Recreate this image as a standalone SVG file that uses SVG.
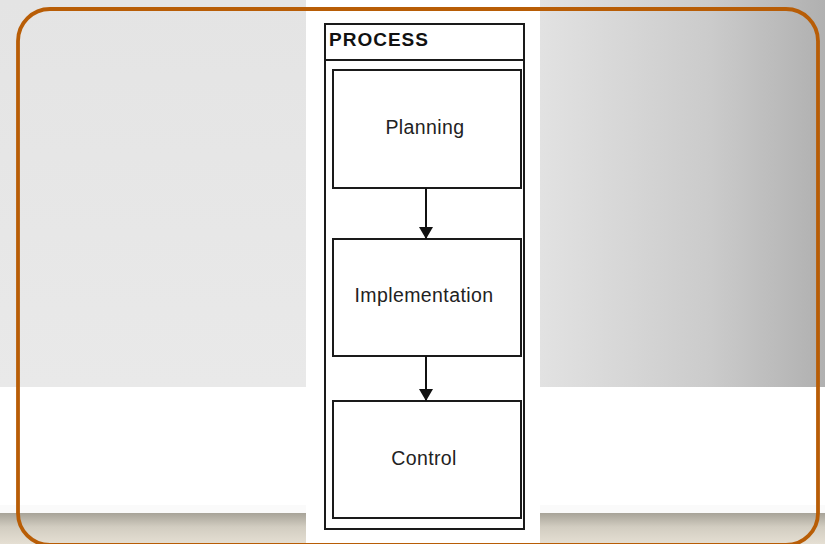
<svg xmlns="http://www.w3.org/2000/svg" width="825" height="544" viewBox="0 0 825 544">
<defs>
<linearGradient id="gRight" x1="0" y1="0" x2="1" y2="0">
<stop offset="0" stop-color="#e2e2e2"/>
<stop offset="0.6" stop-color="#cbcbcb"/>
<stop offset="1" stop-color="#b0b0b0"/>
</linearGradient>
<linearGradient id="gLeft" x1="0" y1="0" x2="0" y2="1">
<stop offset="0" stop-color="#e4e4e4"/>
<stop offset="1" stop-color="#e9e9e9"/>
</linearGradient>
<linearGradient id="gBottom" x1="0" y1="0" x2="0" y2="1">
<stop offset="0" stop-color="#a7a398"/>
<stop offset="0.45" stop-color="#d2cdc1"/>
<stop offset="1" stop-color="#e5dfd3"/>
</linearGradient>
<marker id="arrow" viewBox="0 0 12 14" refX="12" refY="7" markerWidth="12" markerHeight="14" markerUnits="userSpaceOnUse" orient="auto">
<path d="M0,0 L12,7 L0,14 Z" fill="#111"/>
</marker>
<style>
.box{fill:#fff;stroke:#1a1a1a;stroke-width:2}
.lbl{font-family:"Liberation Sans",Arial,sans-serif;font-size:19.5px;letter-spacing:0.4px;fill:#222;text-anchor:middle}
.hdr{font-family:"Liberation Sans",Arial,sans-serif;font-size:19px;font-weight:bold;letter-spacing:1px;fill:#111}
.conn{stroke:#111;stroke-width:2;fill:none}
</style>
</defs>
<g id="background">
<rect x="0" y="0" width="825" height="544" fill="#ffffff"/>
<rect x="0" y="0" width="306" height="387" fill="url(#gLeft)"/>
<rect x="540" y="0" width="285" height="387" fill="url(#gRight)"/>
<rect x="0" y="505" width="306" height="8" fill="#fafafa"/>
<rect x="540" y="505" width="285" height="8" fill="#fafafa"/>
<rect x="0" y="513" width="306" height="31" fill="url(#gBottom)"/>
<rect x="540" y="513" width="285" height="31" fill="url(#gBottom)"/>
<rect x="18" y="9" width="800" height="536" rx="32" ry="32" fill="none" stroke="#b85d06" stroke-width="3.8"/>
</g>
<g id="process">
<rect class="box" x="325" y="24" width="199" height="505"/>
<line x1="325" y1="60" x2="524" y2="60" stroke="#1a1a1a" stroke-width="2"/>
<text class="hdr" x="329" y="46">PROCESS</text>
</g>
<g id="planning">
<rect class="box" x="333" y="70" width="188" height="118"/>
<text class="lbl" x="425" y="134">Planning</text>
</g>
<g id="implementation">
<rect class="box" x="333" y="239" width="188" height="117"/>
<text class="lbl" x="424" y="302">Implementation</text>
</g>
<g id="control">
<rect class="box" x="333" y="401" width="188" height="117"/>
<text class="lbl" x="424" y="465">Control</text>
</g>
<g id="connectors">
<line class="conn" x1="426" y1="188" x2="426" y2="239" marker-end="url(#arrow)"/>
<line class="conn" x1="426" y1="356" x2="426" y2="401" marker-end="url(#arrow)"/>
</g>
</svg>
